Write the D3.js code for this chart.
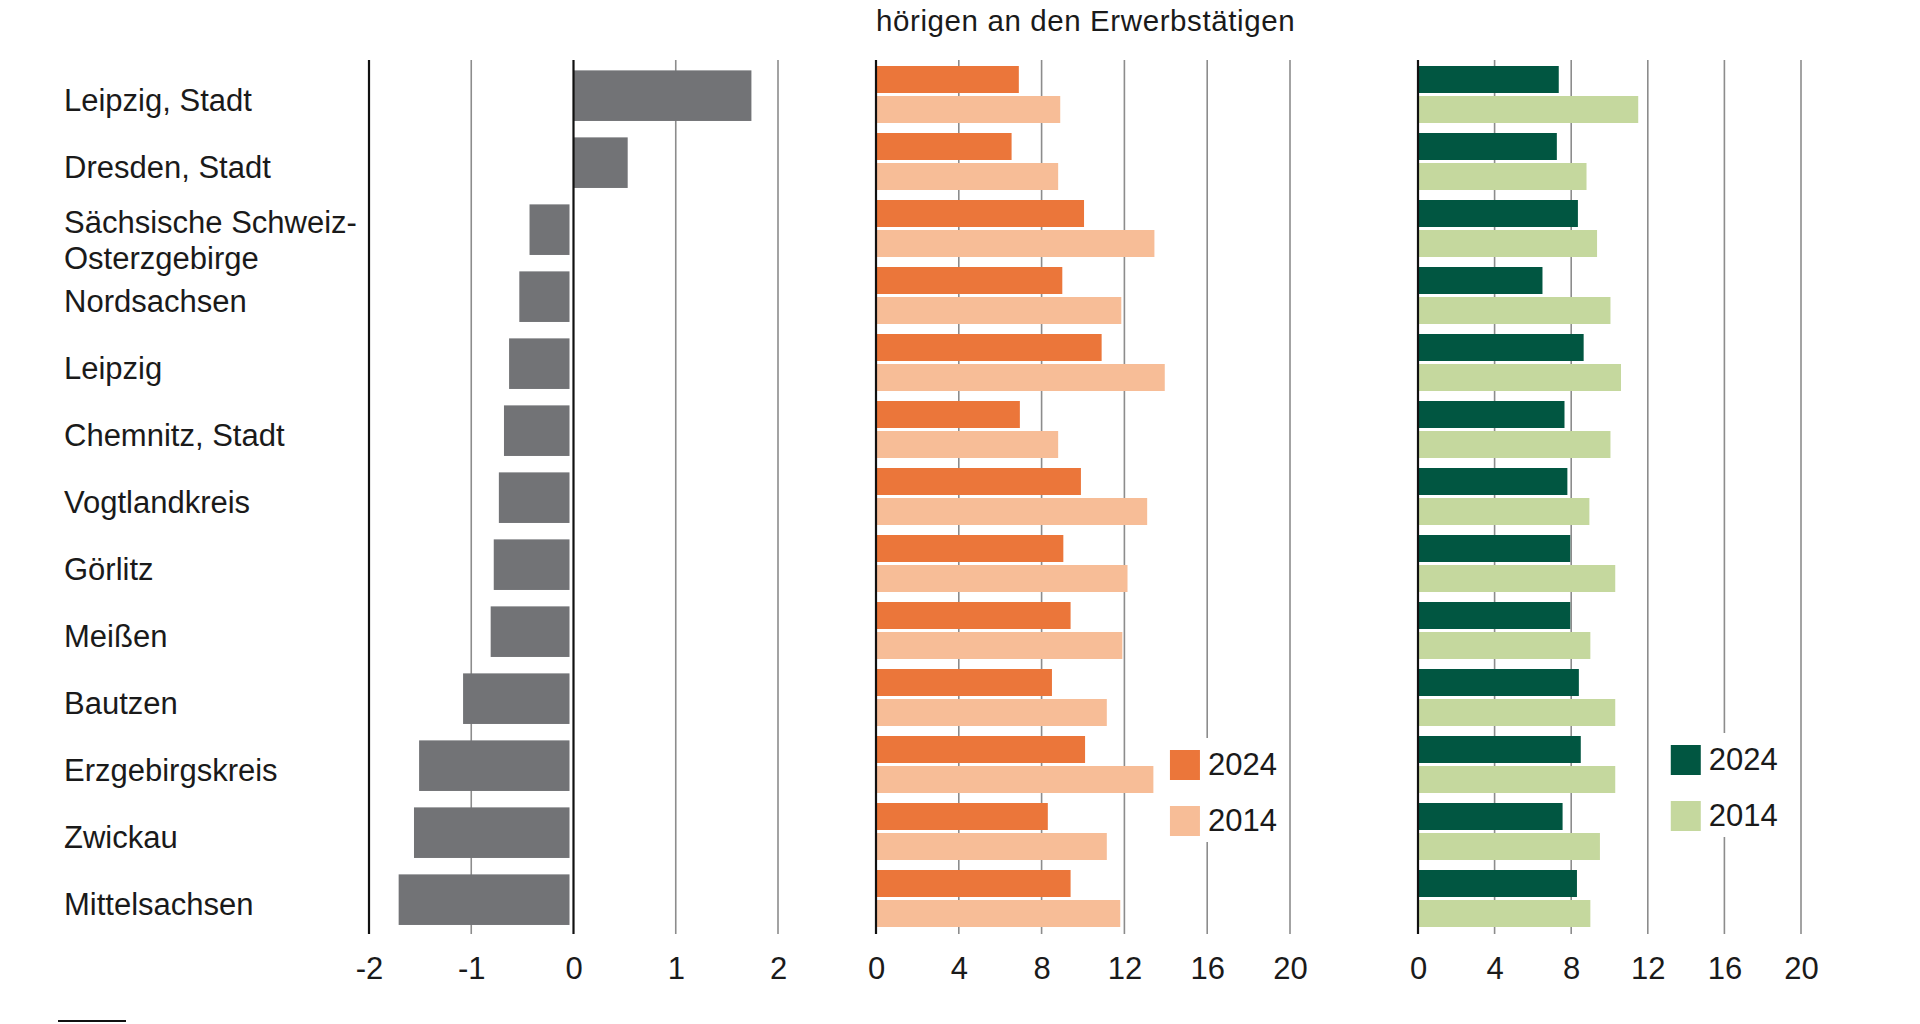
<!DOCTYPE html>
<html>
<head>
<meta charset="utf-8">
<script src="https://cdn.jsdelivr.net/npm/d3@7"></script>
<style>
  body { margin: 0; background: #fff; }
  text { font-family: "Liberation Sans", Arial, sans-serif; fill: #1a1a1a; }
</style>
</head>
<body>
<div id="chart"></div>
<script>
// data
const regions = [
  "Leipzig, Stadt", "Dresden, Stadt", "Sächsische Schweiz-Osterzgebirge",
  "Nordsachsen", "Leipzig", "Chemnitz, Stadt", "Vogtlandkreis", "Görlitz",
  "Meißen", "Bautzen", "Erzgebirgskreis", "Zwickau", "Mittelsachsen"
];
const change = [1.74, 0.53, -0.43, -0.53, -0.63, -0.68, -0.73, -0.78, -0.81, -1.08, -1.51, -1.56, -1.71];
const share2024 = [6.9, 6.55, 10.05, 9.0, 10.9, 6.95, 9.9, 9.05, 9.4, 8.5, 10.1, 8.3, 9.4];
const share2014 = [8.9, 8.8, 13.45, 11.85, 13.95, 8.8, 13.1, 12.15, 11.9, 11.15, 13.4, 11.15, 11.8];
const green2024 = [7.35, 7.25, 8.35, 6.5, 8.65, 7.65, 7.8, 7.95, 7.95, 8.4, 8.5, 7.55, 8.3];
const green2014 = [11.5, 8.8, 9.35, 10.05, 10.6, 10.05, 8.95, 10.3, 9.0, 10.3, 10.3, 9.5, 9.0];
const years = ["2024", "2014"];
const ticksChange = [-2, -1, 0, 1, 2];
const ticksShare = [0, 4, 8, 12, 16, 20];

const width = 1920;
const height = 1024;

const svg = d3.select("#chart")
  .append("svg")
  .attr("width", width)
  .attr("height", height);

const gridTop = 60;
const gridBottom = 934;

const y = d3.scaleBand().domain(regions).range([62, 933]);
const yPair = d3.scaleBand().domain(years).range([4, 61]).paddingInner(0.1);

const x1 = d3.scaleLinear().domain([-2, 2]).range([369, 778]);
const x2 = d3.scaleLinear().domain([0, 20]).range([876, 1290]);
const x3 = d3.scaleLinear().domain([0, 20]).range([1418, 1801]);

// title (second line only, first line is cut off in the original)
svg.append("text")
  .attr("x", 876)
  .attr("y", 31)
  .attr("font-size", 29.5)
  .attr("letter-spacing", 0.6)
  .text("hörigen an den Erwerbstätigen");

// region labels
const labels = svg.append("g").attr("class", "labels");
regions.forEach((r, i) => {
  const cy = y(r) + y.bandwidth() / 2;
  const t = labels.append("text").attr("x", 64).attr("font-size", 31);
  if (r.indexOf("-") > 0) {
    const parts = [r.slice(0, r.indexOf("-") + 1), r.slice(r.indexOf("-") + 1)];
    t.attr("y", cy + 3);
    parts.forEach((p, j) => {
      t.append("tspan").attr("x", 64).attr("dy", j === 0 ? 0 : 36.5).text(p);
    });
  } else {
    t.attr("y", cy + 15).text(r);
  }
});

function gridAndAxis(x, ticks, blackTicks) {
  const g = svg.append("g");
  g.selectAll("line")
    .data(ticks.filter((t) => !blackTicks.includes(t)))
    .enter()
    .append("line")
    .attr("x1", (d) => x(d))
    .attr("x2", (d) => x(d))
    .attr("y1", gridTop)
    .attr("y2", gridBottom)
    .attr("stroke", "#8c8c8c")
    .attr("stroke-width", 1.6);

  const axis = svg.append("g")
    .attr("transform", `translate(0, ${gridBottom})`)
    .call(d3.axisBottom(x).tickValues(ticks).tickSize(0).tickPadding(23).tickFormat((d) => d));
  axis.select(".domain").remove();
  axis.selectAll("text")
    .attr("font-size", 31)
    .attr("font-family", '"Liberation Sans", Arial, sans-serif')
    .attr("fill", "#1a1a1a");
}

function blackLines(x, values) {
  svg.append("g")
    .selectAll("line")
    .data(values)
    .enter()
    .append("line")
    .attr("x1", (d) => x(d))
    .attr("x2", (d) => x(d))
    .attr("y1", gridTop)
    .attr("y2", gridBottom)
    .attr("stroke", "#111")
    .attr("stroke-width", 2.2);
}

// panel 1: change
gridAndAxis(x1, ticksChange, [-2, 0]);
svg.append("g")
  .selectAll("rect")
  .data(change)
  .enter()
  .append("rect")
  .attr("x", (d) => d < 0 ? x1(d) : x1(0))
  .attr("y", (d, i) => y(regions[i]) + y.bandwidth() * 0.125)
  .attr("width", (d) => Math.abs(x1(d) - x1(0)) - (d < 0 ? 4 : 0))
  .attr("height", y.bandwidth() * 0.755)
  .attr("fill", "#727376");
blackLines(x1, [-2, 0]);

// panels 2 and 3: paired bars
function pairedPanel(x, a, b, colors) {
  gridAndAxis(x, ticksShare, [0]);
  const g = svg.append("g");
  [a, b].forEach((vals, k) => {
    g.append("g")
      .selectAll("rect")
      .data(vals)
      .enter()
      .append("rect")
      .attr("x", x(0))
      .attr("y", (d, i) => y(regions[i]) + yPair(years[k]))
      .attr("width", (d) => x(d) - x(0))
      .attr("height", yPair.bandwidth())
      .attr("fill", colors[k]);
  });
  blackLines(x, [0]);
}

const orange = ["#eb763a", "#f7bd97"];
const green = ["#015641", "#c5d89e"];
pairedPanel(x2, share2024, share2014, orange);
pairedPanel(x3, green2024, green2014, green);

// legends
function legend(x0, y0, colors, boxW) {
  const g = svg.append("g").attr("transform", `translate(${x0}, ${y0})`);
  g.append("rect")
    .attr("x", -6)
    .attr("y", -12)
    .attr("width", boxW)
    .attr("height", 104)
    .attr("fill", "#fff");
  years.forEach((yr, i) => {
    g.append("rect")
      .attr("x", 0)
      .attr("y", i * 56)
      .attr("width", 30)
      .attr("height", 30)
      .attr("fill", colors[i]);
    g.append("text")
      .attr("x", 38)
      .attr("y", i * 56 + 25)
      .attr("font-size", 31)
      .text(yr);
  });
}
legend(x2(14.2), 750, orange, 116);
legend(x3(13.2), 745, green, 120);

// footnote separator
svg.append("line")
  .attr("x1", 58)
  .attr("x2", 126)
  .attr("y1", 1021)
  .attr("y2", 1021)
  .attr("stroke", "#111")
  .attr("stroke-width", 2);
</script>
</body>
</html>
